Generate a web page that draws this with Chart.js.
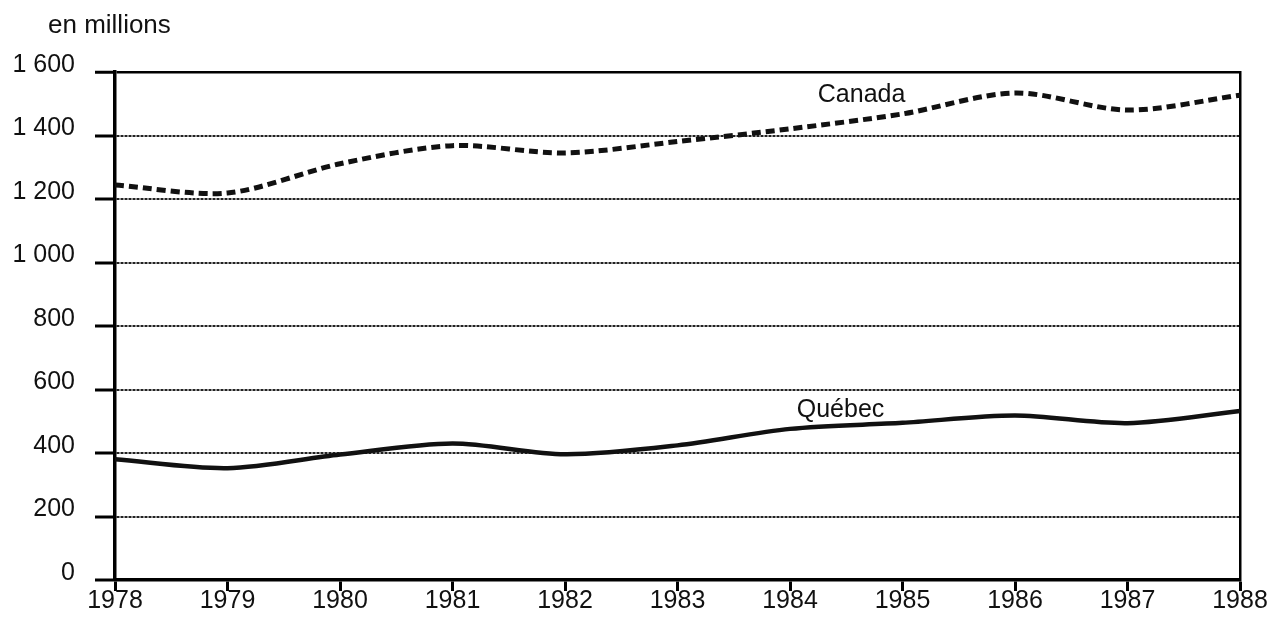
<!DOCTYPE html>
<html lang="fr">
<head>
<meta charset="UTF-8">
<title>en millions</title>
<script src="https://cdn.jsdelivr.net/npm/chart.js"></script>
<style>
    body { margin: 0; background: #fff; }
    #wrap { width: 1284px; height: 621px; }
</style>
</head>
<body>
<div id="wrap"><canvas id="chart" width="1284" height="621"></canvas></div>
<script>
// data
var years = ['1978', '1979', '1980', '1981', '1982', '1983', '1984', '1985', '1986', '1987', '1988'];
var canada = [1244, 1219, 1311, 1368, 1345, 1381, 1421, 1468, 1534, 1480, 1527];
var quebec = [380, 352, 395, 430, 396, 424, 476, 495, 518, 494, 532];
var yTicks = [0, 200, 400, 600, 800, 1000, 1200, 1400, 1600];
var seriesNames = ['Canada', 'Québec'];
var unitText = 'en millions';
// where the series names sit: [category index, value]
var namePos = [[6.636, 1528], [6.449, 535]];

var FONT = "'Liberation Sans', Arial, sans-serif";

// unit caption top left and the series names beside their lines
var textLabels = {
    id: 'textLabels',
    afterDraw: function (chart) {
        var ctx = chart.ctx;
        var x = chart.scales.x, y = chart.scales.y;
        ctx.save();
        ctx.fillStyle = '#111';
        ctx.font = '26px ' + FONT;
        ctx.textAlign = 'left';
        ctx.textBaseline = 'alphabetic';
        ctx.fillText(unitText, chart.chartArea.left - 67, 33);
        ctx.font = '25px ' + FONT;
        ctx.textAlign = 'center';
        ctx.textBaseline = 'middle';
        seriesNames.forEach(function (name, i) {
            ctx.fillText(name, x.getPixelForValue(namePos[i][0]), y.getPixelForValue(namePos[i][1]));
        });
        ctx.restore();
    }
};

function fmt(v) {
    return v >= 1000 ? Math.floor(v / 1000) + ' ' + String(v % 1000).padStart(3, '0') : String(v);
}

new Chart(document.getElementById('chart'), {
    type: 'line',
    data: {
        labels: years,
        datasets: [{
            label: seriesNames[0],
            data: canada,
            borderColor: '#111',
            borderWidth: 5,
            borderDash: [9, 5],
            tension: 0.3,
            pointRadius: 0,
            fill: false
        }, {
            label: seriesNames[1],
            data: quebec,
            borderColor: '#111',
            borderWidth: 4.5,
            tension: 0.3,
            pointRadius: 0,
            fill: false
        }]
    },
    options: {
        responsive: false,
        animation: false,
        layout: { padding: { left: 0, top: 72, right: 0, bottom: 0 } },
        plugins: {
            legend: { display: false },
            tooltip: { enabled: false },
            title: { display: false }
        },
        scales: {
            x: {
                grid: {
                    drawOnChartArea: false,
                    drawTicks: true,
                    tickLength: 11,
                    tickWidth: 3,
                    tickColor: '#000'
                },
                border: { display: true, color: '#000', width: 3.5 },
                ticks: {
                    color: '#111',
                    padding: -2,
                    maxRotation: 0,
                    autoSkip: false,
                    font: { family: FONT, size: 25, lineHeight: 1 }
                },
                afterFit: function (s) { s.height = 41; }
            },
            y: {
                min: 0,
                max: 1600,
                afterBuildTicks: function (s) {
                    s.ticks = yTicks.map(function (v) { return { value: v }; });
                },
                grid: {
                    color: function (c) { return c.tick && c.tick.value === 1600 ? '#000' : '#222'; },
                    lineWidth: function (c) { return c.tick && c.tick.value === 1600 ? 2.5 : 2; },
                    tickLength: 20,
                    tickWidth: 3,
                    tickColor: '#000',
                    tickBorderDash: []
                },
                border: {
                    display: true,
                    color: '#000',
                    width: 3.5,
                    dash: function (c) { return c.tick && c.tick.value !== 1600 ? [3, 1] : []; }
                },
                ticks: {
                    color: '#111',
                    padding: 20,
                    labelOffset: -7,
                    font: { family: FONT, size: 25 },
                    callback: function (v) { return fmt(v); }
                },
                afterFit: function (s) { s.width = 115; }
            },
            y2: {
                display: true,
                position: 'right',
                min: 0,
                max: 1600,
                grid: { display: false, drawTicks: false },
                ticks: { display: false },
                border: { display: true, color: '#000', width: 2.5 },
                afterFit: function (s) { s.width = 44; }
            }
        }
    },
    plugins: [textLabels]
});
</script>
</body>
</html>
